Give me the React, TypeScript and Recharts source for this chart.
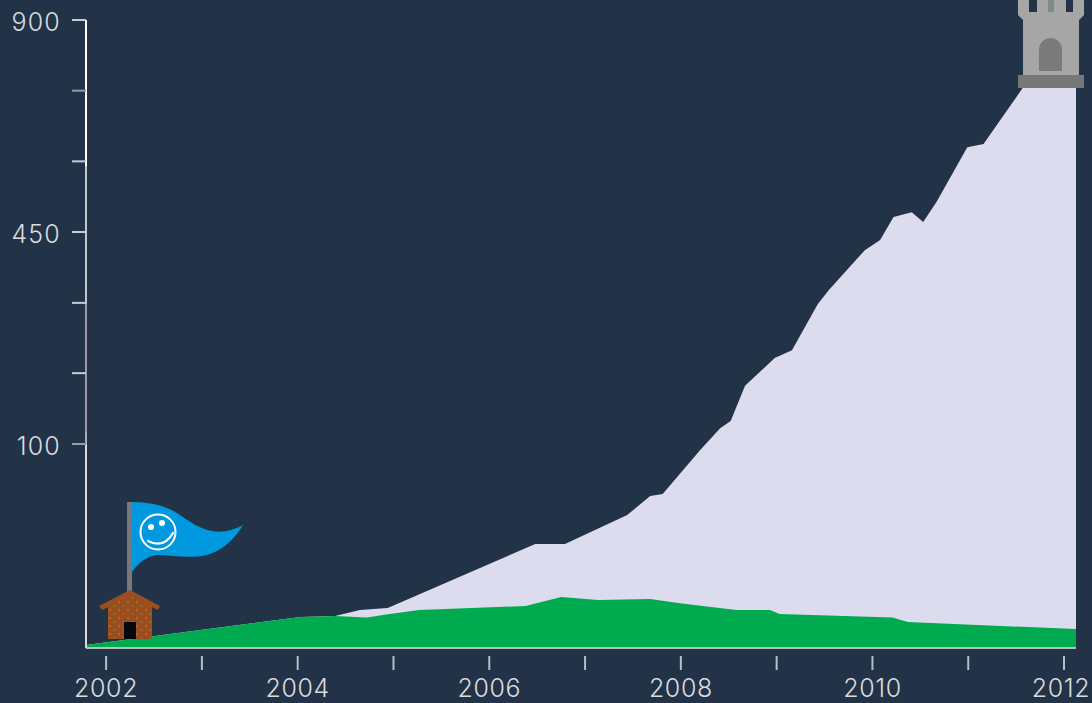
import React from 'react';
import { AreaChart, Area, XAxis, YAxis, ReferenceLine } from 'recharts';

const totalYears = [2001.79, 2004.03, 2004.39, 2004.65, 2004.94, 2006.48, 2006.79, 2007.44, 2007.68, 2007.81, 2008.2, 2008.41, 2008.52, 2008.67, 2008.98, 2009.16, 2009.43, 2009.55, 2009.92, 2010.08, 2010.22, 2010.41, 2010.53, 2010.67, 2010.99, 2011.16, 2011.57, 2012.125];
const totalValues = [1.5, 15.2, 15.7, 18.6, 19.6, 51, 51, 65.2, 74.5, 75.5, 97, 126, 138, 196, 242, 255, 331, 355, 420, 437, 482, 492, 471, 514, 630, 637, 756, 756];
const earlyYears = [2001.79, 2004.03, 2004.39, 2004.72, 2004.96, 2005.27, 2006.38, 2006.75, 2007.14, 2007.68, 2007.99, 2008.58, 2008.93, 2009.03, 2010.21, 2010.37, 2012.125];
const earlyValues = [1.5, 15.2, 15.7, 15, 16.7, 18.6, 20.6, 25, 23.5, 24, 22, 18.6, 18.6, 16.7, 15, 12.7, 9.3];

const xTicks = [2002, 2003, 2004, 2005, 2006, 2007, 2008, 2009, 2010, 2011, 2012];
const xLabelled = [2002, 2004, 2006, 2008, 2010, 2012];
const yTicks = [100, 217, 333, 450, 600, 750, 900];
const yLabelled = [100, 450, 900];

// the axis is not linear: each stretch between these values has its own slope
const scaleKnots = [0, 100, 450, 900];
const scaleShares = [0, 0.3248, 0.6624, 1];

// the vertical axis line changes colour along its length
const axisStops = [0, 100, 120, 330, 590, 900];
const axisColors = ['#d5d7dc', '#a9abb6', '#9a98b0', '#c3c6cc', '#ffffff'];

const BG = '#223347';
const LABEL = '#d8dbdf';
const FONT = 'Inter, sans-serif';

const rows = Array.from(new Set([...totalYears, ...earlyYears]))
  .sort((a, b) => a - b)
  .map((year) => {
    const t = totalYears.indexOf(year);
    const e = earlyYears.indexOf(year);
    return { year, total: t >= 0 ? totalValues[t] : null, early: e >= 0 ? earlyValues[e] : null };
  });

const makeScale = (dom = [0, 900], rng = [648, 20]) => {
  const scale: any = (v: number) => {
    let i = 0;
    while (i < scaleKnots.length - 2 && v > scaleKnots[i + 1]) i++;
    const part = (v - scaleKnots[i]) / (scaleKnots[i + 1] - scaleKnots[i]);
    const share = scaleShares[i] + part * (scaleShares[i + 1] - scaleShares[i]);
    return rng[0] + (rng[1] - rng[0]) * share;
  };
  scale.domain = (d?: number[]) => (d ? makeScale(d, rng) : dom);
  scale.range = (r?: number[]) => (r ? makeScale(dom, r) : rng);
  scale.copy = () => makeScale(dom, rng);
  scale.ticks = () => yTicks;
  scale.tickFormat = () => (v: number) => String(v);
  return scale;
};

const XTick = ({ x, y, payload }: any) => (
  <g>
    <line x1={x} x2={x} y1={y} y2={y + 14} stroke="#b9bdc4" strokeWidth={2} />
    {xLabelled.includes(payload.value) && (
      <text x={Math.min(x, 1061)} y={697} textAnchor="middle" fill={LABEL} fontFamily={FONT} fontWeight={300} fontSize={25} letterSpacing={0.6}>
        {payload.value}
      </text>
    )}
  </g>
);

const YTick = ({ x, y, payload }: any) => (
  <g>
    <line x1={72} x2={86} y1={y} y2={y} stroke={payload.value === 750 || payload.value === 100 ? '#9a98b0' : '#c8cbd0'} strokeWidth={2} />
    {yLabelled.includes(payload.value) && (
      <text x={61} y={y + 11} textAnchor="end" fill={LABEL} fontFamily={FONT} fontWeight={300} fontSize={25} letterSpacing={1.2}>
        {payload.value}
      </text>
    )}
  </g>
);

const Decorations = () => (
  <svg width={1092} height={703} style={{ position: 'absolute', left: 0, top: 0, pointerEvents: 'none' }}>
    <defs>
      <pattern id="bricks" width="9" height="8" patternUnits="userSpaceOnUse">
        <rect width="9" height="8" fill="#9a4d1e" />
        <circle cx="2" cy="2" r="0.8" fill="#d9812c" />
        <circle cx="6.5" cy="6" r="0.8" fill="#7d8f2a" />
      </pattern>
    </defs>
    {/* flag */}
    <path
      d="M132 502 C150 502 166 506 177 513 C190 522 200 529 212 531 C223 533 234 530 243 525 C236 537 224 550 207 555 C190 559 172 555 157 555 C147 556 138 563 132 572 Z"
      fill="#0099e0"
    />
    <rect x={127} y={502} width={5} height={90} fill="#77787c" />
    <circle cx={158} cy={532} r={17.5} fill="none" stroke="#fff" strokeWidth={2} />
    <circle cx={151} cy={527} r={3} fill="#fff" />
    <circle cx={162} cy={523} r={3} fill="#fff" />
    <path d="M148 541 Q164 549 173 533" fill="none" stroke="#fff" strokeWidth={2.2} strokeLinecap="round" />
    {/* house */}
    <rect x={108} y={602} width={44} height={37} fill="url(#bricks)" />
    <path d="M130 590 L160 606 L158 610 L130 597 L102 610 L99 606 Z" fill="#9a4d1e" />
    <path d="M130 594 L152 606 L108 606 Z" fill="url(#bricks)" />
    <rect x={124} y={622} width={12} height={17} fill="#05080c" />
    {/* tower */}
    <path d="M1018 0 H1084 V15 L1079 20 V75 H1023 V20 L1018 15 Z" fill="#a6a6a6" />
    <rect x={1029} y={0} width={8} height={12} fill={BG} />
    <rect x={1048} y={0} width={6} height={12} fill="#7f8b8c" />
    <rect x={1066} y={0} width={7} height={12} fill={BG} />
    <path d="M1039 71 V50 C1039 42 1045 38 1050.5 38 C1056 38 1062 42 1062 50 V71 Z" fill="#7a7a7a" />
    <rect x={1018} y={75} width={66} height={13} fill="#777777" />
  </svg>
);

export default function App() {
  return (
    <div style={{ position: 'absolute', left: 0, top: 0, width: 1092, height: 703, background: BG, overflow: 'hidden' }}>
      <AreaChart width={1092} height={703} data={rows} margin={{ top: 20, right: 16, bottom: 0, left: 0 }}>
        <XAxis
          dataKey="year"
          type="number"
          domain={[2001.79, 2012.125]}
          ticks={xTicks}
          interval={0}
          height={55}
          tick={<XTick />}
          tickLine={false}
          axisLine={false}
        />
        <YAxis
          type="number"
          width={86}
          domain={[0, 900]}
          scale={makeScale()}
          ticks={yTicks}
          interval={0}
          tick={<YTick />}
          tickLine={false}
          axisLine={false}
        />
        <Area dataKey="total" type="linear" connectNulls baseValue={0} fill="#dddcee" fillOpacity={1} stroke="none" isAnimationActive={false} dot={false} activeDot={false} />
        <Area dataKey="early" type="linear" connectNulls baseValue={0} fill="#00aa4f" fillOpacity={1} stroke="none" isAnimationActive={false} dot={false} activeDot={false} />
        <ReferenceLine y={0} stroke="#b9bdc4" strokeWidth={2} />
        {axisColors.map((color, i) => (
          <ReferenceLine
            key={color}
            segment={[{ x: 2001.79, y: axisStops[i] }, { x: 2001.79, y: axisStops[i + 1] }]}
            stroke={color}
            strokeWidth={2}
          />
        ))}
      </AreaChart>
      <Decorations />
    </div>
  );
}
